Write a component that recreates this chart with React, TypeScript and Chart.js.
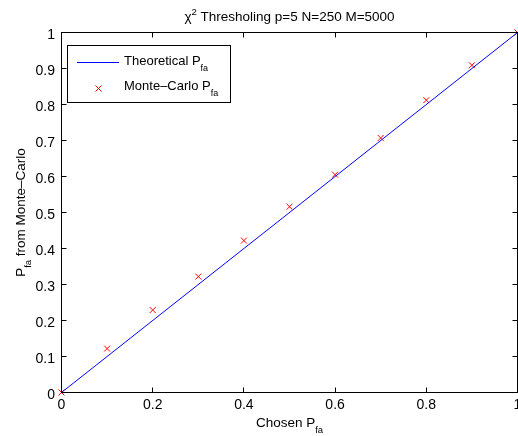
import { useEffect, useRef } from "react";
import { Chart, registerables } from "chart.js";

Chart.register(...registerables);

// ---- data ----
const chosenPfa = [0, 0.1, 0.2, 0.3, 0.4, 0.5, 0.6, 0.7, 0.8, 0.9, 1];
const monteCarloPfa = [0, 0.122, 0.229, 0.322, 0.422, 0.516, 0.605, 0.707, 0.812, 0.909, 1];
const theoreticalX = [0, 1];
const theoreticalY = [0, 1];
const xTicks = [0, 0.2, 0.4, 0.6, 0.8, 1];
const xTickLabels = ["0", "0.2", "0.4", "0.6", "0.8", "1"];
const yTicks = [0, 0.1, 0.2, 0.3, 0.4, 0.5, 0.6, 0.7, 0.8, 0.9, 1];
const yTickLabels = ["0", "0.1", "0.2", "0.3", "0.4", "0.5", "0.6", "0.7", "0.8", "0.9", "1"];
const titleMain = " Thresholing p=5 N=250 M=5000";
const legendLabels = ["Theoretical P", "Monte\u2013Carlo P"];
const xLabel = "Chosen P";
const yLabelTail = " from Monte\u2013Carlo";
const subText = "fa";

const FONT = '"Liberation Sans", Arial, Helvetica, sans-serif';

type Part = { t: string; size: number; dy?: number };

function richWidth(ctx: CanvasRenderingContext2D, parts: Part[]) {
  let w = 0;
  for (const p of parts) {
    ctx.font = `${p.size}px ${FONT}`;
    w += ctx.measureText(p.t).width;
  }
  return w;
}

function drawRich(
  ctx: CanvasRenderingContext2D,
  parts: Part[],
  x: number,
  y: number,
  align: "left" | "center"
) {
  const w = richWidth(ctx, parts);
  let cx = align === "center" ? x - w / 2 : x;
  ctx.textAlign = "left";
  ctx.textBaseline = "alphabetic";
  for (const p of parts) {
    ctx.font = `${p.size}px ${FONT}`;
    ctx.fillText(p.t, cx, y + (p.dy || 0));
    cx += ctx.measureText(p.t).width;
  }
}

const decor = {
  id: "matlabDecor",
  afterDraw(chart: any) {
    const ctx: CanvasRenderingContext2D = chart.ctx;
    const { left, right, top, bottom } = chart.chartArea;
    const xs = chart.scales.x;
    const ys = chart.scales.y;
    ctx.save();
    ctx.fillStyle = "#000";
    ctx.strokeStyle = "#000";
    ctx.lineWidth = 1;

    // box
    ctx.strokeRect(left, top, right - left, bottom - top);

    // inward ticks
    const tl = 5;
    ctx.beginPath();
    for (const v of xTicks) {
      const px = Math.round(xs.getPixelForValue(v) - 0.5) + 0.5;
      ctx.moveTo(px, bottom);
      ctx.lineTo(px, bottom - tl);
      ctx.moveTo(px, top);
      ctx.lineTo(px, top + tl);
    }
    for (const v of yTicks) {
      const py = Math.round(ys.getPixelForValue(v) - 0.5) + 0.5;
      ctx.moveTo(left, py);
      ctx.lineTo(left + tl, py);
      ctx.moveTo(right, py);
      ctx.lineTo(right - tl, py);
    }
    ctx.stroke();

    // tick labels
    ctx.font = `14px ${FONT}`;
    ctx.textAlign = "center";
    ctx.textBaseline = "alphabetic";
    xTicks.forEach((v, i) => {
      ctx.fillText(xTickLabels[i], xs.getPixelForValue(v), 409);
    });
    ctx.textAlign = "right";
    yTicks.forEach((v, i) => {
      ctx.fillText(yTickLabels[i], 55, ys.getPixelForValue(v) + 6.5);
    });

    const midX = (left + right) / 2;
    const midY = (top + bottom) / 2;

    // title
    drawRich(
      ctx,
      [
        { t: "\u03C7", size: 13.5 },
        { t: "2", size: 9.5, dy: -6.5 },
        { t: titleMain, size: 13.5 },
      ],
      midX,
      21,
      "center"
    );

    // x label
    drawRich(
      ctx,
      [
        { t: xLabel, size: 13.5 },
        { t: subText, size: 9.5, dy: 6 },
      ],
      midX,
      426.5,
      "center"
    );

    // y label
    ctx.save();
    ctx.translate(24.5, midY);
    ctx.rotate(-Math.PI / 2);
    drawRich(
      ctx,
      [
        { t: "P", size: 13.5 },
        { t: subText, size: 9.5, dy: 6 },
        { t: yLabelTail, size: 13.5 },
      ],
      0,
      0,
      "center"
    );
    ctx.restore();

    // legend
    ctx.fillStyle = "#fff";
    ctx.fillRect(67.5, 45.5, 163, 57);
    ctx.strokeStyle = "#000";
    ctx.strokeRect(67.5, 45.5, 163, 57);
    ctx.strokeStyle = "#0000ff";
    ctx.beginPath();
    ctx.moveTo(77, 62.5);
    ctx.lineTo(119, 62.5);
    ctx.stroke();
    ctx.strokeStyle = "#ff0000";
    ctx.beginPath();
    ctx.moveTo(95.5, 85.5);
    ctx.lineTo(101.5, 91.5);
    ctx.moveTo(101.5, 85.5);
    ctx.lineTo(95.5, 91.5);
    ctx.stroke();
    ctx.fillStyle = "#000";
    drawRich(
      ctx,
      [
        { t: legendLabels[0], size: 13 },
        { t: subText, size: 9, dy: 6 },
      ],
      124,
      65,
      "left"
    );
    drawRich(
      ctx,
      [
        { t: legendLabels[1], size: 13 },
        { t: subText, size: 9, dy: 6 },
      ],
      124,
      90,
      "left"
    );

    ctx.restore();
  },
};

export default function App() {
  const ref = useRef<HTMLCanvasElement | null>(null);

  useEffect(() => {
    document.body.style.margin = "0";
    const canvas = ref.current;
    if (!canvas) return;
    const chart = new Chart(canvas, {
      type: "scatter",
      data: {
        datasets: [
          {
            label: "Theoretical",
            data: theoreticalX.map((x, i) => ({ x, y: theoreticalY[i] })),
            showLine: true,
            borderColor: "#0000ff",
            backgroundColor: "#0000ff",
            borderWidth: 1,
            pointRadius: 0,
            fill: false,
          },
          {
            label: "Monte-Carlo",
            data: chosenPfa.map((x, i) => ({ x, y: monteCarloPfa[i] })),
            showLine: false,
            pointStyle: "crossRot",
            pointRadius: 4.2,
            borderColor: "#ff0000",
            backgroundColor: "#ff0000",
            pointBorderWidth: 1,
            borderWidth: 1,
            clip: false,
          },
        ],
      },
      options: {
        responsive: false,
        animation: false,
        devicePixelRatio: 1,
        layout: {
          autoPadding: false,
          padding: { top: 32.5, right: 0.5, left: 0, bottom: 0 },
        },
        plugins: {
          legend: { display: false },
          title: { display: false },
          tooltip: { enabled: false },
        },
        scales: {
          x: {
            type: "linear",
            min: 0,
            max: 1,
            grid: { display: false },
            border: { display: false },
            ticks: { display: false },
            afterFit: (s: any) => {
              s.height = 43.5;
            },
          },
          y: {
            type: "linear",
            min: 0,
            max: 1,
            grid: { display: false },
            border: { display: false },
            ticks: { display: false },
            afterFit: (s: any) => {
              s.width = 61.5;
            },
          },
        },
      } as any,
      plugins: [decor],
    });
    return () => chart.destroy();
  }, []);

  return (
    <div style={{ width: 518, height: 436, background: "#fff" }}>
      <canvas ref={ref} width={518} height={436} style={{ display: "block" }} />
    </div>
  );
}
